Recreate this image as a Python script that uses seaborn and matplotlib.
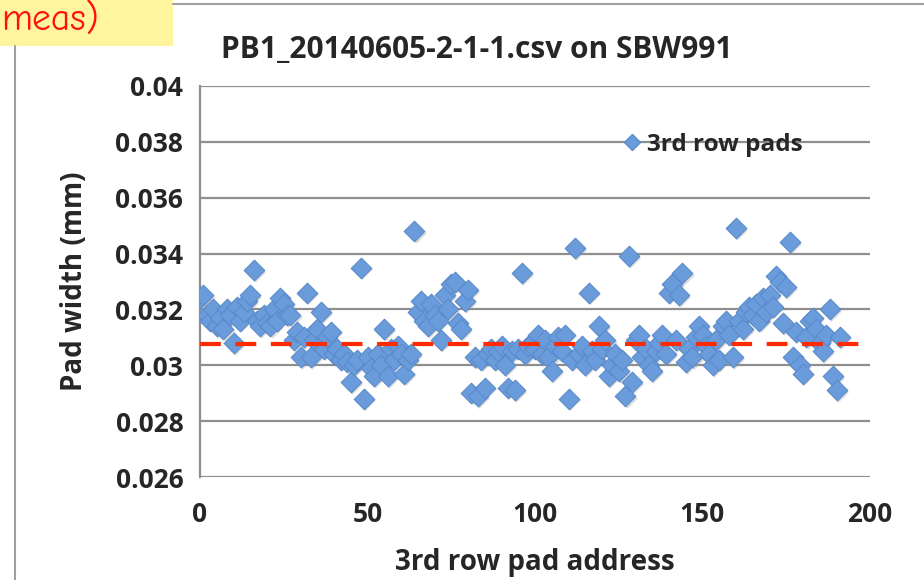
import matplotlib
matplotlib.use("Agg")
import matplotlib.pyplot as plt
import seaborn as sns
import pandas as pd
import numpy as np
from matplotlib.lines import Line2D
from matplotlib.patches import Rectangle

# ---------------- data ----------------
title = "PB1_20140605-2-1-1.csv on SBW991"
x_label = "3rd row pad address"
y_label = "Pad width (mm)"
series_label = "3rd row pads"
corner_note = "meas)"

pad_width = [
    0.0324, 0.0325, 0.0318, 0.0316, 0.0320, 0.0314, 0.0317, 0.0313, 0.0320, 0.0318,
    0.0308, 0.0321, 0.0316, 0.0319, 0.0323, 0.0325, 0.0334, 0.0316, 0.0314, 0.0318,
    0.0315, 0.0314, 0.0320, 0.0316, 0.0324, 0.0322, 0.0318, 0.0318, 0.0309, 0.0312,
    0.0303, 0.0310, 0.0326, 0.0303, 0.0309, 0.0313, 0.0319, 0.0306, 0.0310, 0.0312,
    0.0304, 0.0306, 0.0302, 0.0304, 0.0301, 0.0294, 0.0300, 0.0302, 0.0335, 0.0288,
    0.0303, 0.0299, 0.0296, 0.0304, 0.0300, 0.0313, 0.0296, 0.0306, 0.0302, 0.0307,
    0.0304, 0.0297, 0.0302, 0.0304, 0.0348, 0.0319, 0.0323, 0.0316, 0.0314, 0.0322,
    0.0318, 0.0316, 0.0309, 0.0325, 0.0320, 0.0329, 0.0330, 0.0315, 0.0313, 0.0323,
    0.0327, 0.0290, 0.0303, 0.0289, 0.0302, 0.0292, 0.0304, 0.0306, 0.0302, 0.0305,
    0.0307, 0.0300, 0.0292, 0.0305, 0.0291, 0.0306, 0.0333, 0.0304, 0.0307, 0.0308,
    0.0306, 0.0311, 0.0304, 0.0309, 0.0303, 0.0298, 0.0307, 0.0310, 0.0305, 0.0311,
    0.0288, 0.0302, 0.0342, 0.0304, 0.0307, 0.0300, 0.0326, 0.0305, 0.0302, 0.0314,
    0.0306, 0.0309, 0.0296, 0.0300, 0.0304, 0.0298, 0.0302, 0.0289, 0.0339, 0.0294,
    0.0309, 0.0311, 0.0303, 0.0306, 0.0300, 0.0298, 0.0305, 0.0308, 0.0311, 0.0304,
    0.0326, 0.0329, 0.0309, 0.0325, 0.0333, 0.0301, 0.0306, 0.0303, 0.0310, 0.0314,
    0.0311, 0.0307, 0.0304, 0.0300, 0.0309, 0.0302, 0.0314, 0.0316, 0.0311, 0.0303,
    0.0349, 0.0316, 0.0313, 0.0319, 0.0321, 0.0318, 0.0322, 0.0316, 0.0324, 0.0319,
    0.0325, 0.0321, 0.0332, 0.0330, 0.0315, 0.0328, 0.0344, 0.0303, 0.0312, 0.0300,
    0.0297, 0.0310, 0.0316, 0.0317, 0.0313, 0.0308, 0.0305, 0.0311, 0.0320, 0.0296,
    0.0291, 0.0310,
]
pad_address = list(range(len(pad_width)))

mean_level = 0.03076
mean_span = [0, 200]

y_ticks = [0.026, 0.028, 0.03, 0.032, 0.034, 0.036, 0.038, 0.04]
y_tick_labels = ["0.026", "0.028", "0.03", "0.032", "0.034", "0.036", "0.038", "0.04"]
x_ticks = [0, 50, 100, 150, 200]
x_tick_labels = ["0", "50", "100", "150", "200"]

df = pd.DataFrame({"address": pad_address, "width": pad_width})

# ---------------- figure ----------------
sns.set_style("white")
plt.rcParams["font.family"] = ["Open Sans", "DejaVu Sans"]

fig = plt.figure(figsize=(9.24, 5.80), dpi=100)
fig.patch.set_facecolor("white")

ax = fig.add_axes([200 / 924, 1 - 477 / 580, 670 / 924, (477 - 86) / 580])

grid_col = "#8e8e8e"
for yt in y_ticks:
    ax.axhline(yt, color=grid_col, lw=1.6, zorder=0)

# soft shadows
ax.scatter(np.array(pad_address) + 0.35, np.array(pad_width) - 0.00006, marker="D",
           s=110, color="#9a9a9a", alpha=0.35, linewidths=0, zorder=2)

sns.scatterplot(data=df, x="address", y="width", marker="D", s=110,
                color="#6a9cdc", edgecolor="#5a8acb", linewidth=0.8,
                ax=ax, zorder=3, label=series_label, legend=False)

ax.plot(mean_span, [mean_level, mean_level], color="#ff2a00", lw=3,
        dashes=(5, 3.5), zorder=4)

ax.set_xlim(0, 200)
ax.set_ylim(0.026, 0.04)
ax.set_yticks(y_ticks)
ax.set_yticklabels(y_tick_labels)
ax.set_xticks(x_ticks)
ax.set_xticklabels(x_tick_labels)

for s in ["top", "right", "bottom"]:
    ax.spines[s].set_visible(False)
ax.spines["left"].set_color(grid_col)
ax.spines["left"].set_linewidth(1.6)

ax.tick_params(axis="y", direction="out", length=7, width=1.6, color=grid_col,
               labelsize=19, pad=5)
ax.tick_params(axis="x", length=0, labelsize=19, pad=17)
for lbl in ax.get_xticklabels() + ax.get_yticklabels():
    lbl.set_fontweight("bold")

ax.set_xlabel(x_label, fontsize=20, fontweight="bold", labelpad=15)
ax.set_ylabel(y_label, fontsize=20, fontweight="bold", labelpad=19)
ax.set_title(title, fontsize=21.5, fontweight="bold", pad=20, x=0.413)

handle = Line2D([], [], marker="D", linestyle="none", markersize=8.5,
                markerfacecolor="#6a9cdc", markeredgecolor="#5a8acb")
ax.legend([handle], [series_label], loc="center left", bbox_to_anchor=(0.605, 0.85),
          frameon=False, prop={"weight": "bold", "size": 17.5},
          handletextpad=0.0, borderpad=0, handlelength=1.2)

# slide decorations
fig.patches.append(Rectangle((0, 1 - 46 / 580), 173 / 924, 46 / 580,
                             transform=fig.transFigure, facecolor="#fff59e",
                             edgecolor="none", zorder=0))
fig.text(1 / 924, 1 - 20 / 580, corner_note, color="#ff1010", fontsize=27,
         va="center", ha="left", family=["Comic Neue", "DejaVu Sans"])
fig.lines.append(Line2D([15 / 924, 15 / 924], [0, 1 - 46 / 580],
                        transform=fig.transFigure, color="#a0a0a0", lw=1.5))
fig.lines.append(Line2D([173 / 924, 1], [1 - 4 / 580, 1 - 4 / 580],
                        transform=fig.transFigure, color="#a0a0a0", lw=1.5))

fig.savefig("out.png", dpi=100)
